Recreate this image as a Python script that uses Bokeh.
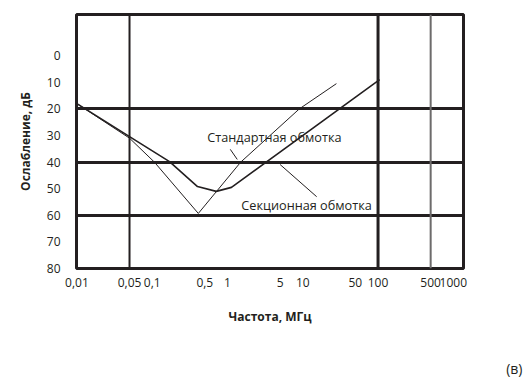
from bokeh.plotting import figure
from bokeh.models import Range1d, FixedTicker, Span, Label, Title, LogAxis
from bokeh.embed import file_html
from bokeh.resources import INLINE

INK = "#231f20"
FONT = "Open Sans"

# ---- data ----
x_ticks = [0.01, 0.05, 0.1, 0.5, 1, 5, 10, 50, 100, 500, 1000]
x_tick_labels = ["0,01", "0,05", "0,1", "0,5", "1", "5", "10", "50", "100", "500", "1000"]
y_ticks = [0, 10, 20, 30, 40, 50, 60, 70, 80]
y_grid = [20, 40, 60]

std_freq = [0.01, 0.05, 0.107, 0.41, 1.5, 9.0, 28]
std_db = [18, 31, 40, 59.3, 40, 20, 10.5]

sec_freq = [0.01, 0.05, 0.17, 0.40, 0.71, 1.13, 105]
sec_db = [18, 30.4, 39.8, 49.2, 51, 49.5, 9]

# annotation texts and leader lines (freq, dB)
std_label = "Стандартная обмотка"
std_label_pos = (0.54, 30.4)
std_leader_freq = [1.09, 1.35]
std_leader_db = [35.2, 39.0]

sec_label = "Секционная обмотка"
sec_label_pos = (1.53, 56.0)
sec_leader_freq = [5.0, 15.3]
sec_leader_db = [40.9, 53.0]

p = figure(width=527, height=384, x_axis_type="log",
           x_range=Range1d(0.00988, 1365), y_range=Range1d(80, -15.5),
           output_backend="svg", toolbar_location=None,
           min_border_left=76, min_border_right=64,
           min_border_top=14, min_border_bottom=116)

p.outline_line_color = INK
p.outline_line_width = 3
p.background_fill_color = "white"
p.border_fill_color = "white"

# grids
p.xgrid.visible = False
p.ygrid.ticker = FixedTicker(ticks=y_grid)
p.ygrid.grid_line_color = INK
p.ygrid.grid_line_width = 3

p.add_layout(Span(location=0.05, dimension="height", line_color=INK, line_width=2))
p.add_layout(Span(location=100, dimension="height", line_color=INK, line_width=3))
p.add_layout(Span(location=500, dimension="height", line_color="#6d6b6b", line_width=2))

# axes
xa = p.xaxis[0]
xa.ticker = FixedTicker(ticks=x_ticks)
xa.major_label_overrides = {t: l for t, l in zip(x_ticks, x_tick_labels)}
ya = p.yaxis[0]
ya.ticker = FixedTicker(ticks=y_ticks)
for ax in (xa, ya):
    ax.axis_line_color = None
    ax.major_tick_line_color = None
    ax.minor_tick_line_color = None
    ax.major_label_text_font = FONT
    ax.major_label_text_font_size = "12px"
    ax.major_label_text_color = INK
    ax.axis_label_text_font = FONT
    ax.axis_label_text_font_size = "12px"
    ax.axis_label_text_font_style = "bold"
    ax.axis_label_text_color = INK
xa.major_label_standoff = 3
ya.major_label_standoff = 10
xa.axis_label = "Частота, МГц"
ya.axis_label = "Ослабление, дБ"
xa.axis_label_standoff = 18
ya.axis_label_standoff = 10

# invisible spacer below the x axis, so that the panel label sits near the bottom
spacer = LogAxis(ticker=FixedTicker(ticks=[1]), major_tick_out=26, major_tick_in=0,
                 major_tick_line_color="white", minor_tick_line_color=None,
                 axis_line_color=None, major_label_overrides={1: ""},
                 major_label_standoff=0, major_label_text_font_size="1px",
                 major_label_text_color="white")
p.add_layout(spacer, "below")

# curves
p.line(std_freq, std_db, line_color=INK, line_width=1)
p.line(sec_freq, sec_db, line_color=INK, line_width=1.6)

# annotations
p.line(std_leader_freq, std_leader_db, line_color=INK, line_width=1)
p.line(sec_leader_freq, sec_leader_db, line_color=INK, line_width=1)
p.add_layout(Label(x=std_label_pos[0], y=std_label_pos[1], text=std_label,
                   text_align="left", text_baseline="middle", text_font=FONT,
                   text_font_size="12.7px", text_color=INK))
p.add_layout(Label(x=sec_label_pos[0], y=sec_label_pos[1], text=sec_label,
                   text_align="left", text_baseline="middle", text_font=FONT,
                   text_font_size="12.7px", text_color=INK))

p.add_layout(Title(text="(в)", align="right", offset=-59, standoff=6,
                   text_font=FONT, text_font_size="14px",
                   text_font_style="normal", text_color=INK), "below")

open("out.html", "w").write(file_html(p, INLINE))
